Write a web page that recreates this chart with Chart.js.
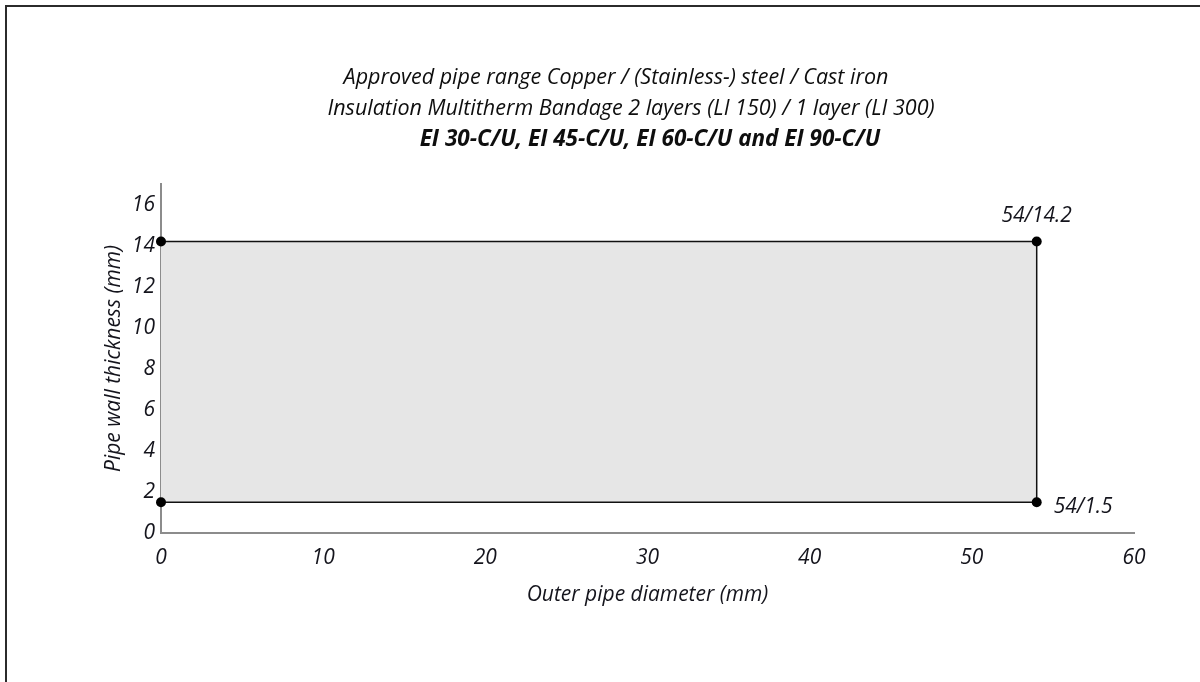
<!DOCTYPE html>
<html>
<head>
<meta charset="utf-8">
<script src="https://cdn.jsdelivr.net/npm/chart.js@4/dist/chart.umd.min.js"></script>
<style>
    html, body { margin: 0; padding: 0; background: #fff; }
    #wrap { position: relative; width: 1200px; height: 682px; overflow: hidden; }
    #frame { position: absolute; left: 5px; top: 5px; width: 1300px; height: 800px;
             border-top: 2px solid #2b2b2b; border-left: 2px solid #2b2b2b; pointer-events: none; }
    canvas { position: absolute; left: 0; top: 0; }
</style>
</head>
<body>
<div id="wrap">
    <canvas id="myChart" width="1200" height="682"></canvas>
    <div id="frame"></div>
</div>
<script>
// chart data
const headerLines = [
    'Approved pipe range Copper / (Stainless-) steel / Cast iron',
    'Insulation Multitherm Bandage 2 layers (LI 150) / 1 layer (LI 300)',
    'EI 30-C/U, EI 45-C/U, EI 60-C/U and EI 90-C/U'
];
const outerDiameter = [0, 54];      // mm
const wallMax = [14.2, 14.2];       // mm
const wallMin = [1.5, 1.5];         // mm
const cornerLabels = ['54/14.2', '54/1.5'];
const xTicks = [0, 10, 20, 30, 40, 50, 60];
const yTicks = [0, 2, 4, 6, 8, 10, 12, 14, 16];

const FONT = "'Open Sans', 'Noto Sans', sans-serif";
const TEXT = '#14141c';

document.addEventListener('DOMContentLoaded', function () {
    const upper = outerDiameter.map((x, i) => ({ x: x, y: wallMax[i] }));
    const lower = outerDiameter.map((x, i) => ({ x: x, y: wallMin[i] }));
    const last = outerDiameter.length - 1;
    const edge = [
        { x: outerDiameter[last], y: wallMin[last] },
        { x: outerDiameter[last], y: wallMax[last] }
    ];

    // header text and corner labels
    const textPlugin = {
        id: 'textPlugin',
        afterDatasetsDraw(chart) {
            const ctx = chart.ctx;
            const xs = chart.scales.x, ys = chart.scales.y;
            ctx.save();
            ctx.fillStyle = '#0e0e0e';
            ctx.textAlign = 'center';
            ctx.textBaseline = 'middle';
            ctx.font = 'italic 21.5px ' + FONT;
            ctx.fillText(headerLines[0], 616, 78);
            ctx.fillText(headerLines[1], 631, 109);
            ctx.font = 'italic bold 22.5px ' + FONT;
            ctx.fillText(headerLines[2], 650, 140);

            ctx.fillStyle = TEXT;
            ctx.font = 'italic 21px ' + FONT;
            const px = xs.getPixelForValue(outerDiameter[last]);
            ctx.fillText(cornerLabels[0], px, ys.getPixelForValue(wallMax[last]) - 25);
            ctx.textAlign = 'left';
            ctx.fillText(cornerLabels[1], px + 17, ys.getPixelForValue(wallMin[last]) + 5);
            ctx.restore();
        }
    };

    const ctx = document.getElementById('myChart').getContext('2d');
    const myChart = new Chart(ctx, {
        type: 'scatter',
        data: {
            datasets: [{
                label: 'max',
                data: upper,
                showLine: true,
                borderColor: '#111',
                borderWidth: 1.5,
                backgroundColor: '#e6e6e6',
                fill: '+1',
                pointRadius: 5,
                pointBackgroundColor: '#000',
                pointBorderWidth: 0,
                clip: false
            }, {
                label: 'min',
                data: lower,
                showLine: true,
                borderColor: '#111',
                borderWidth: 1.5,
                fill: false,
                pointRadius: 5,
                pointBackgroundColor: '#000',
                pointBorderWidth: 0,
                clip: false
            }, {
                label: 'edge',
                data: edge,
                showLine: true,
                borderColor: '#111',
                borderWidth: 1.5,
                fill: false,
                pointRadius: 0,
                clip: false
            }]
        },
        options: {
            responsive: false,
            animation: false,
            layout: { padding: { left: 90, right: 66, top: 184, bottom: 59 } },
            plugins: {
                legend: { display: false },
                tooltip: { enabled: false },
                filler: { drawTime: 'beforeDatasetsDraw' }
            },
            scales: {
                x: {
                    type: 'linear',
                    min: 0,
                    max: 60,
                    afterBuildTicks: s => { s.ticks = xTicks.map(v => ({ value: v })); },
                    afterFit: s => { s.height = 90; },
                    grid: { display: false, drawTicks: false },
                    border: { display: true, color: '#8c8c8c', width: 2 },
                    ticks: { color: TEXT, padding: 12, maxRotation: 0, font: { family: FONT, size: 21, style: 'italic' } },
                    title: {
                        display: true,
                        text: 'Outer pipe diameter (mm)',
                        color: TEXT,
                        padding: { top: 0, bottom: 15 },
                        font: { family: FONT, size: 21, style: 'italic' }
                    }
                },
                y: {
                    type: 'linear',
                    min: 0,
                    max: 17,
                    afterBuildTicks: s => { s.ticks = yTicks.map(v => ({ value: v })); },
                    afterFit: s => { s.width = 71; },
                    grid: { display: false, drawTicks: false },
                    border: { display: true, color: '#8c8c8c', width: 2 },
                    ticks: { color: TEXT, padding: 6, font: { family: FONT, size: 21, style: 'italic' } },
                    title: {
                        display: true,
                        text: 'Pipe wall thickness (mm)',
                        color: TEXT,
                        padding: { top: 11, bottom: 0 },
                        font: { family: FONT, size: 21, style: 'italic' }
                    }
                }
            }
        },
        plugins: [textPlugin]
    });
});
</script>
</body>
</html>
